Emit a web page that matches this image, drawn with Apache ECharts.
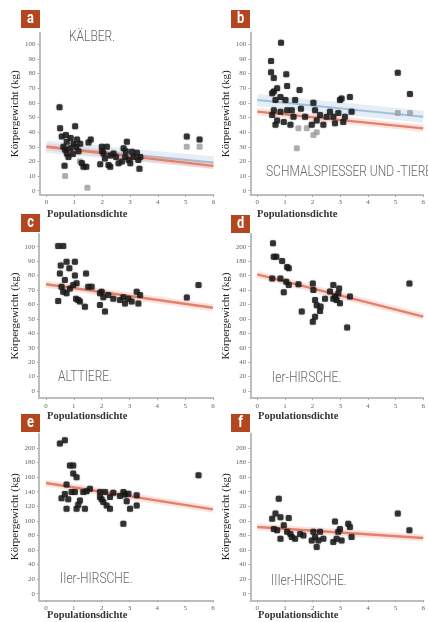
<!DOCTYPE html>
<html><head><meta charset="utf-8">
<script src="https://cdn.jsdelivr.net/npm/echarts@6/dist/echarts.min.js"></script>
<style>html,body{margin:0;padding:0;background:#fff}#c{width:428px;height:622px}</style>
</head><body><div id="c"></div>
<script>
// ---------- DATA ----------
const xTicks = [0, 1, 2, 3, 4, 5, 6];
const xTickLabels = ['0', '1', '2', '3', '4', '5', '6'];
const yTicks100 = [0, 10, 20, 30, 40, 50, 60, 70, 80, 90, 100];
const yTickLabels100 = ['0', '10', '20', '30', '40', '50', '60', '70', '80', '90', '100'];
const yTicks200 = [0, 20, 40, 60, 80, 100, 120, 140, 160, 180, 200];
const yTickLabels200 = ['0', '20', '40', '60', '80', '100', '120', '140', '160', '180', '200'];
const yTickLabels200Cut = ['0', '20', '40', '60', '80', '00', '20', '40', '60', '180', '200'];

const panelLetters = ['a', 'b', 'c', 'd', 'e', 'f'];
const panelTitles = ['KÄLBER.', 'SCHMALSPIESSER UND -TIERE', 'ALTTIERE.', 'Ier-HIRSCHE.', 'IIer-HIRSCHE.', 'IIIer-HIRSCHE.'];
const yAxisTitle = 'Körpergewicht (kg)';
const xAxisTitle = 'Populationsdichte';

// panel a – Kälber
const kaelberDark = [[0.47,57],[0.49,42.6],[0.55,37],[0.61,30],[0.67,28],[0.73,25.5],[0.65,17],[0.79,23],[0.87,36],[0.97,32],[1.03,44],[1.07,30],[1.15,27],[1.21,32],[1.27,19],[1.33,16.4],[1.43,16.4],[1.51,33],[1.59,35],[0.73,33.5],[0.85,29],[0.95,25],[1.1,35],[0.7,38],[1.99,30],[2.05,25.5],[2.1,22],[2.17,30],[2.23,17.5],[2.29,24],[2.41,25.5],[1.93,18],[2.29,16.4],[2.0,27],[2.5,23],[2.77,29],[2.83,23],[2.89,33.5],[2.95,21],[3.01,18.7],[2.71,20],[3.07,26.6],[3.25,26],[3.37,23],[3.34,15],[3.13,23],[2.85,27],[3.3,21],[2.59,18.7],[5.04,37],[5.5,35]];
const kaelberLight = [[0.67,10],[1.47,2],[1.2,20],[5.04,30],[5.5,30]];
const kaelberRed = [[0, 30], [6, 17]];
const kaelberBlue = [[0, 30], [6, 19.3]];

// panel b – Schmalspießer und -tiere
const schmalDark = [[0.86,101],[0.5,88.6],[0.5,81],[0.6,77],[1.05,79.5],[1.08,71.5],[0.6,67.7],[0.72,70],[0.54,66.5],[0.66,62],[0.84,64],[1.02,62],[0.6,55],[0.84,54],[1.08,55],[0.54,51.7],[0.72,48],[0.96,47],[1.2,45],[1.31,50.6],[1.37,62],[1.53,68.8],[1.58,56],[0.66,45],[1.25,55],[2.03,60],[2.09,55],[1.97,45],[2.27,51.7],[2.39,45],[2.51,50.6],[2.15,48],[2.75,50.6],[2.81,46],[2.93,53],[2.99,62],[3.05,63],[3.11,47],[3.17,50.6],[3.35,64],[3.41,54],[2.63,54],[1.73,50.6],[5.08,80.6],[5.52,66]];
const schmalLight = [[1.49,42.6],[1.43,29],[2.03,38],[2.15,40],[1.79,42.6],[5.08,53],[5.52,53]];
const schmalRed = [[0, 54], [6, 42.6]];
const schmalBlue = [[0, 62], [6, 50.5]];

// panel c – Alttiere
const alttiereDark = [[0.44,100.5],[0.62,100.5],[0.53,87],[0.74,89.6],[1.04,89.6],[0.84,85],[0.5,81.5],[0.68,77],[1.04,80],[1.44,81.5],[0.44,62.4],[0.56,72.3],[0.62,68.8],[0.74,67.7],[0.86,71],[0.98,73.4],[1.1,74.6],[1.08,64],[1.16,63],[1.22,62],[1.4,58.4],[1.52,72.3],[1.64,72.3],[1.94,59.6],[2.0,68.8],[2.06,65],[2.12,55],[2.24,66.5],[2.42,64],[1.94,67.7],[2.78,65],[2.84,60.7],[2.96,64],[3.08,62],[3.26,68.8],[3.32,60.7],[3.38,66.5],[2.66,63],[5.06,64.7],[5.48,73.4]];
const alttiereRed = [[0, 74], [6, 57.7]];

// panel d – Ier-Hirsche
const hirsch1Dark = [[0.57,204.6],[0.6,186],[0.69,186],[0.9,180],[1.08,172],[1.14,170],[0.54,156],[0.84,156],[1.05,151.5],[1.14,147],[0.96,136.7],[1.49,148],[1.61,110],[2.01,149],[2.03,140],[2.09,126],[2.15,119],[2.27,111],[2.29,117],[2.09,103],[2.01,96],[2.45,128],[2.75,147],[2.81,131],[2.87,126],[2.93,135],[2.96,142],[2.99,121.5],[2.75,128],[3.35,131],[3.25,88],[2.63,138],[5.5,149]];
const hirsch1Red = [[0, 161.7], [6, 103]];

// panel e – IIer-Hirsche
const hirsch2Dark = [[0.5,206],[0.68,210.5],[0.86,176],[0.98,176],[0.98,165],[1.1,160],[0.74,150],[0.56,131],[0.68,137],[0.8,129.5],[0.74,116.7],[0.92,139.6],[1.04,139.6],[1.1,116.7],[1.22,128],[1.16,122],[1.4,116.7],[1.34,139.6],[1.46,140.5],[1.58,144],[1.94,139.6],[1.94,132.7],[2.0,129.5],[2.06,126],[2.12,139.6],[2.18,121],[2.3,116.7],[2.3,132.7],[2.42,138.7],[2.78,139.6],[2.84,136],[2.9,126.8],[2.96,137.3],[3.02,116.7],[2.78,96],[3.26,135],[3.26,121],[2.66,134],[5.48,162.5]];
const hirsch2Red = [[0, 152], [6, 115.8]];

// panel f – IIIer-Hirsche
const hirsch3Dark = [[0.78,130.4],[0.54,103],[0.66,110],[0.84,105],[1.14,104],[0.6,89],[0.72,87],[0.84,75.5],[0.96,94],[1.08,85],[1.2,82],[1.25,78],[1.37,75.5],[1.55,82],[1.67,80],[2.03,85],[2.09,78],[2.15,64],[2.21,73],[2.27,85],[2.39,75.5],[1.97,73],[2.81,99],[2.87,75.5],[2.93,85],[2.99,89],[3.05,73],[3.29,96],[3.35,91.5],[3.41,78],[2.75,71],[5.08,110],[5.5,87]];
const hirsch3Red = [[0, 91.5], [6, 76.5]];

// ---------- LAYOUT ----------
const layout = [
  {grid:{left:39.5, top:32.6, width:174, height:162.5}, yMin:-3, yMax:108, yTicks:yTicks100, yLabels:yTickLabels100, nameGap:16, box:[21,10], title:[69,37], xName:[47,214]},
  {grid:{left:250.3, top:32.6, width:174.4, height:162.5}, yMin:-3, yMax:108, yTicks:yTicks100, yLabels:yTickLabels100, nameGap:12.5, box:[231,10], title:[266,172], xName:[257,214]},
  {grid:{left:39, top:233.7, width:174, height:164.5}, yMin:-5, yMax:109, yTicks:yTicks100, yLabels:yTickLabels100, nameGap:15, box:[21,214], title:[58,377], xName:[47,416]},
  {grid:{left:250.3, top:233.7, width:174.4, height:164.5}, yMin:-10, yMax:218, yTicks:yTicks200, yLabels:yTickLabels200Cut, nameGap:14, box:[231,215], title:[272,378], xName:[258,416]},
  {grid:{left:39, top:433.4, width:174, height:166.9}, yMin:-9, yMax:220, yTicks:yTicks200, yLabels:yTickLabels200, nameGap:18.5, box:[21,414], title:[60,579], xName:[47,615]},
  {grid:{left:250.3, top:433.4, width:174.4, height:166.9}, yMin:-9, yMax:220, yTicks:yTicks200, yLabels:yTickLabels200Cut, nameGap:14, box:[231,414], title:[271,581], xName:[258,615]}
];

const darkSets = [kaelberDark, schmalDark, alttiereDark, hirsch1Dark, hirsch2Dark, hirsch3Dark];
const lightSets = [kaelberLight, schmalLight, [], [], [], []];
const redLines = [kaelberRed, schmalRed, alttiereRed, hirsch1Red, hirsch2Red, hirsch3Red];
const blueLines = [kaelberBlue, schmalBlue, null, null, null, null];

const grids = [], xAxes = [], yAxes = [], series = [], graphics = [];
const axisCol = '#bdbdbd', labCol = '#666';

layout.forEach((L, i) => {
  grids.push(Object.assign({containLabel:false}, L.grid));
  xAxes.push({
    type:'value', gridIndex:i, min:-0.25, max:6,
    axisLine:{show:true, onZero:false, lineStyle:{color:axisCol, width:2}},
    axisTick:{show:true, length:2, inside:false, customValues:xTicks, lineStyle:{color:'#aaa'}},
    axisLabel:{customValues:xTicks, fontSize:7, color:labCol, margin:4, fontFamily:'Liberation Serif',
      formatter:(v)=>xTickLabels[xTicks.indexOf(v)]},
    splitLine:{show:false}
  });
  yAxes.push({
    type:'value', gridIndex:i, min:L.yMin, max:L.yMax,
    name:yAxisTitle, nameLocation:'middle', nameGap:L.nameGap,
    nameTextStyle:{fontFamily:'Liberation Serif', fontSize:11, color:'#1a1a1a'},
    axisLine:{show:true, onZero:false, lineStyle:{color:axisCol, width:2}},
    axisTick:{show:true, length:2, customValues:L.yTicks, lineStyle:{color:'#aaa'}},
    axisLabel:{customValues:L.yTicks, fontSize:7, color:labCol, margin:4, fontFamily:'Liberation Serif',
      formatter:(v)=>L.yLabels[L.yTicks.indexOf(v)]},
    splitLine:{show:false}
  });
  if (blueLines[i]) {
    series.push({type:'line', xAxisIndex:i, yAxisIndex:i, data:blueLines[i], symbol:'none', silent:true,
      lineStyle:{color:'rgba(160,192,222,0.28)', width:12}, z:1});
    series.push({type:'line', xAxisIndex:i, yAxisIndex:i, data:blueLines[i], symbol:'none', silent:true,
      lineStyle:{color:'#a3c1df', width:2}, z:2});
  }
  series.push({type:'line', xAxisIndex:i, yAxisIndex:i, data:redLines[i], symbol:'none', silent:true,
    lineStyle:{color:'rgba(232,130,111,0.22)', width:7}, z:2});
  series.push({type:'line', xAxisIndex:i, yAxisIndex:i, data:redLines[i], symbol:'none', silent:true,
    lineStyle:{color:'#e4806c', width:2.4}, z:3});
  if (lightSets[i].length) {
    series.push({type:'scatter', xAxisIndex:i, yAxisIndex:i, data:lightSets[i], symbol:'roundRect', symbolSize:6,
      itemStyle:{color:'#9a9a9a', opacity:0.8}, z:4});
  }
  series.push({type:'scatter', xAxisIndex:i, yAxisIndex:i, data:darkSets[i], symbol:'roundRect', symbolSize:6,
    itemStyle:{color:'#1b1b1b', opacity:0.82, shadowBlur:1.5, shadowColor:'rgba(0,0,0,0.5)'}, z:5});

  // panel letter box
  graphics.push({type:'rect', left:L.box[0], top:L.box[1], shape:{width:19, height:18}, style:{fill:'#b3461e'}, z:10});
  graphics.push({type:'text', x:L.box[0]+9.5, y:L.box[1]+9, scaleX:0.8, z:11,
    style:{text:panelLetters[i], fill:'#fff', fontFamily:'Roboto', fontWeight:'bold', fontSize:16, align:'center', verticalAlign:'middle'}});
  // panel title
  graphics.push({type:'text', x:L.title[0], y:L.title[1], scaleX:0.8, z:11,
    style:{text:panelTitles[i], fill:'#666', fontFamily:'Roboto', fontWeight:300, fontSize:15, align:'left', verticalAlign:'middle'}});
  // x axis title
  graphics.push({type:'text', x:L.xName[0], y:L.xName[1], z:11,
    style:{text:xAxisTitle, fill:'#333', fontFamily:'Liberation Serif', fontWeight:'bold', fontSize:10.5, align:'left', verticalAlign:'middle'}});
});

const chart = echarts.init(document.getElementById('c'), null, {renderer:'canvas'});
chart.setOption({
  animation:false,
  backgroundColor:'#fff',
  grid:grids, xAxis:xAxes, yAxis:yAxes, series:series, graphic:graphics
});
</script></body></html>
